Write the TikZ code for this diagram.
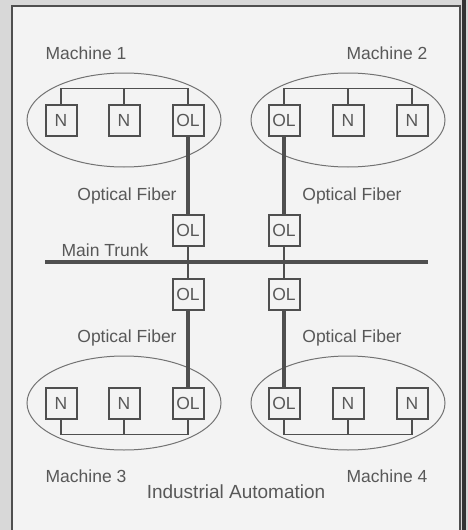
\documentclass[tikz,border=0pt]{standalone}
\usepackage{fontspec}
\setmainfont{Liberation Sans}
\usetikzlibrary{shapes,positioning}
\definecolor{ink}{HTML}{4F4F4F}
\definecolor{txt}{HTML}{585858}
\definecolor{paper}{HTML}{F3F3F3}
\definecolor{frame}{HTML}{D8D8D8}
\tikzstyle{box}=[shape=rectangle, draw=ink, line width=2pt, minimum size=31pt, inner sep=0pt, fill=paper, text=txt, font=\fontsize{17.5}{20}\selectfont]
\tikzstyle{mach}=[shape=ellipse, draw=ink!80, line width=1pt, minimum width=194pt, minimum height=94pt, inner sep=0pt]
\tikzstyle{lbl}=[anchor=base, text=txt, inner sep=0pt, font=\fontsize{17.5}{20}\selectfont]
\tikzstyle{bus}=[draw=ink, line width=1.3pt]
\tikzstyle{fiber}=[draw=ink, line width=4pt]

\begin{document}
\begin{tikzpicture}[x=1pt,y=-1pt]
\useasboundingbox (0,0) rectangle (468,530);
\fill[frame] (0,0) rectangle (468,530);
\fill[paper] (12,6) rectangle (460,530);
\draw[ink,line width=1.5pt] (12,530) -- (12,6) -- (460,6) -- (460,530);
\fill[black!80] (462,0) rectangle (466,530);

% machine 1
\node (m1) [mach] at (124,120) {};
\node (a1) [box] at (61,120) {N};
\node (a2) [box] at (124,120) {N};
\node (a3) [box] at (188,120) {OL};
\draw[bus] (a1.north) -- ++(0,-15) -| (a3.north);
\draw[bus] (a2.north) -- ++(0,-15);
\node (l1) [lbl] at (86,59) {Machine 1};

% machine 2
\node (m2) [mach] at (348,120) {};
\node (b1) [box] at (284,120) {OL};
\node (b2) [box] at (348,120) {N};
\node (b3) [box] at (412,120) {N};
\draw[bus] (b1.north) -- ++(0,-15) -| (b3.north);
\draw[bus] (b2.north) -- ++(0,-15);
\node (l2) [lbl] at (387,59) {Machine 2};

% machine 3
\node (m3) [mach] at (124,403) {};
\node (c1) [box] at (61,403) {N};
\node (c2) [box] at (124,403) {N};
\node (c3) [box] at (188,403) {OL};
\draw[bus] (c1.south) -- ++(0,15) -| (c3.south);
\draw[bus] (c2.south) -- ++(0,15);
\node (l3) [lbl] at (86,482) {Machine 3};

% machine 4
\node (m4) [mach] at (348,403) {};
\node (d1) [box] at (284,403) {OL};
\node (d2) [box] at (348,403) {N};
\node (d3) [box] at (412,403) {N};
\draw[bus] (d1.south) -- ++(0,15) -| (d3.south);
\draw[bus] (d2.south) -- ++(0,15);
\node (l4) [lbl] at (387,482) {Machine 4};

% main trunk
\coordinate (trL) at (45,262);
\coordinate (trR) at (428,262);
\draw[fiber] (trL) -- (trR);
\node (tr) [lbl] at (105,256) {Main Trunk};

\node (u1) [box] at (188,230) {OL};
\node (u2) [box] at (284,230) {OL};
\node (v1) [box] at (188,294) {OL};
\node (v2) [box] at (284,294) {OL};
\draw[bus] (u1.south) -- (v1.north);
\draw[bus] (u2.south) -- (v2.north);

% optical fibers
\draw[fiber] (a3.south) -- (u1.north);
\draw[fiber] (b1.south) -- (u2.north);
\draw[fiber] (v1.south) -- (c3.north);
\draw[fiber] (v2.south) -- (d1.north);
\node (f1) [lbl] at (127,200) {Optical Fiber};
\node (f2) [lbl] at (352,200) {Optical Fiber};
\node (f3) [lbl] at (127,342) {Optical Fiber};
\node (f4) [lbl] at (352,342) {Optical Fiber};

\node (ttl) [lbl,font=\fontsize{19}{22}\selectfont] at (236,498) {Industrial Automation};
\end{tikzpicture}
\end{document}
